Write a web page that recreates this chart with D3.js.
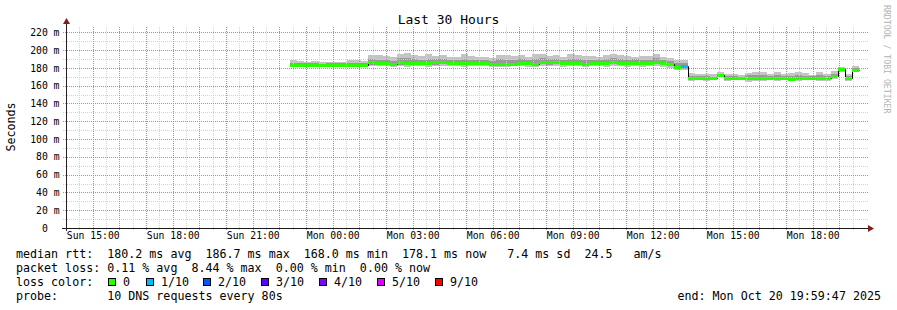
<!DOCTYPE html>
<html>
<head>
<meta charset="utf-8">
<script src="https://cdn.jsdelivr.net/npm/d3@7"></script>
<style>
  body { margin: 0; background: #fff; }
  svg { display: block; font-family: "DejaVu Sans Mono", monospace; }
  .legend text { white-space: pre; }
</style>
</head>
<body>
<div id="container"></div>
<script>
let w = 897;
let h = 310;

// ---- data (ms), one value per 16 minute rrd step ----
let dataStart = new Date(2025, 9, 19, 22, 24, 0);
let stepMin = 16;

let median = [
  183.2,183.6,183.4,183.5,183.0,183.3,183.1,183.4,183.0,183.0,182.9,
  186.3,185.2,185.3,184.0,186.3,185.0,185.4,185.1,185.3,
  186.2,186.2,186.0,186.0,186.0,185.5,185.6,185.4,184.6,184.4,
  184.4,184.6,186.0,185.8,184.2,186.3,186.2,186.6,186.0,185.4,
  185.9,184.4,185.5,185.0,185.2,186.4,185.3,185.2,186.0,185.2,
  185.6,186.3,185.2,184.2,180.8,182.1,
  168.4,168.6,168.4,168.5,172.2,
  168.3,168.2,168.4,168.1,168.3,168.5,168.2,168.4,168.3,168.0,168.2,168.4,168.3,168.1,168.2,
  171.3,178.3,168.8,178.1
];
// outer smoke (fastest / slowest ping)
let smokeHi = [
  189.0,187.5,187.0,188.0,186.8,187.2,187.0,186.6,188.5,188.4,188.0,
  194.5,194.5,193.4,192.6,195.6,196.4,194.5,193.4,195.3,
  193.8,194.1,192.6,191.9,195.6,193.4,192.6,191.9,190.8,194.5,
  194.5,193.4,194.5,192.6,195.6,195.6,193.4,194.5,192.6,195.6,
  194.5,193.4,193.4,191.9,194.5,195.6,194.5,193.4,192.6,193.4,
  193.4,195.6,192.6,190.8,188.9,188.9,
  173.9,172.8,173.2,172.6,175.4,
  173.2,173.2,172.0,174.6,175.4,175.4,173.2,175.4,173.2,174.6,175.4,173.9,172.0,175.4,173.2,
  176.9,180.7,173.2,182.1
];
let smokeLo = [
  180.8,181.2,181.0,181.4,181.0,181.2,181.0,181.3,180.9,180.8,181.0,
  181.6,181.9,182.1,181.2,181.8,181.4,182.0,181.7,181.5,
  181.9,182.2,181.6,182.0,181.4,181.8,182.1,181.6,181.0,181.3,
  181.5,181.8,182.0,181.2,180.8,182.2,181.6,181.9,181.4,181.7,
  182.0,181.1,181.6,181.8,181.4,182.1,181.7,181.5,181.9,181.3,
  181.8,182.0,181.4,180.2,177.4,178.2,
  165.8,166.0,165.6,165.9,169.8,
  165.6,165.9,166.2,164.5,165.8,165.6,166.0,165.4,165.9,165.2,165.7,165.9,166.0,165.6,165.8,
  167.4,175.4,165.0,176.1
];
// inner smoke (middle pings)
let innerHi = [
  185.8,185.4,185.2,185.6,184.9,185.2,185.0,185.0,185.8,185.6,185.4,
  190.2,189.4,189.0,187.8,190.6,191.0,189.6,189.2,190.0,
  189.8,190.1,189.0,188.6,190.4,189.4,189.2,188.8,188.0,189.6,
  189.4,189.0,190.0,189.2,190.2,190.8,189.6,190.4,189.4,190.2,
  190.0,188.8,189.4,188.6,189.6,190.6,189.8,189.0,189.6,189.0,
  189.4,190.6,189.0,187.6,185.0,185.6,
  170.6,170.4,170.8,170.2,173.6,
  170.4,170.6,170.2,171.8,171.6,172.2,170.8,171.6,170.6,171.4,172.0,171.2,170.4,171.6,170.6,
  173.6,179.8,171.0,179.6
];
let innerLo = [
  182.2,182.4,182.3,182.5,182.0,182.3,182.1,182.4,182.0,181.9,182.0,
  183.6,183.4,183.6,182.6,183.8,183.0,183.4,183.2,183.4,
  183.8,183.9,183.6,183.7,183.4,183.5,183.6,183.3,182.8,182.6,
  182.8,183.0,183.9,183.6,182.4,184.0,183.8,184.1,183.6,183.3,
  183.7,182.6,183.4,183.2,183.1,184.0,183.3,183.2,183.8,183.1,
  183.5,184.0,183.2,182.4,178.8,180.0,
  167.2,167.4,167.2,167.3,170.8,
  167.1,167.0,167.4,166.6,167.1,167.3,167.0,167.0,167.1,166.8,167.0,167.2,167.1,166.9,167.0,
  169.8,177.0,167.4,177.2
];
// lost pings out of 10
let loss = [
  0,0,0,0,0,0,0,0,0,0,0,
  0,0,0,0,0,0,0,0,0,
  0,0,0,0,0,0,0,0,0,0,
  0,0,0,0,0,0,0,0,0,0,
  0,0,0,0,0,0,0,0,0,0,
  0,0,0,0,0,1,
  0,0,0,0,0,
  0,0,0,0,0,0,0,0,0,0,0,0,0,0,0,
  0,0,0,0
];

let lossSteps = [0, 1, 2, 3, 4, 5, 9];
let lossLabels = ["0", "1/10", "2/10", "3/10", "4/10", "5/10", "9/10"];
let lossColors = ["#26ff00", "#00b8ff", "#0059ff", "#5e00ff", "#7e00ff", "#dd00ff", "#ff0000"];

let yTicks = [0, 20, 40, 60, 80, 100, 120, 140, 160, 180, 200, 220];
let statLines = [
  "median rtt:  180.2 ms avg  186.7 ms max  168.0 ms min  178.1 ms now   7.4 ms sd  24.5   am/s",
  "packet loss: 0.11 % avg  8.44 % max  0.00 % min  0.00 % now"
];
let probeText = "probe:       10 DNS requests every 80s";
let endText = "end: Mon Oct 20 19:59:47 2025";

// ---- layout ----
let plotL = 66, plotR = 866, plotT = 27, plotB = 228;
let tStart = new Date(2025, 9, 19, 13, 59, 47);
let tEnd = new Date(2025, 9, 20, 19, 59, 47);

let svg = d3.select("#container").append("svg")
  .attr("width", w)
  .attr("height", h)
  .style("background-color", "#fff");

let xScale = d3.scaleTime().domain([tStart, tEnd]).range([plotL, plotR]);
let yScale = d3.scaleLinear().domain([0, 226]).range([plotB, plotT]);

// title and labels
svg.append("text")
  .attr("x", w / 2).attr("y", 24)
  .attr("text-anchor", "middle")
  .style("font-size", "13px")
  .text("Last 30 Hours");

svg.append("text")
  .attr("transform", "translate(15,127) rotate(-90)")
  .attr("text-anchor", "middle")
  .style("font-size", "11.66px")
  .text("Seconds");

svg.append("text")
  .attr("transform", "translate(884,5) rotate(90)")
  .style("font-size", "8.2px")
  .attr("fill", "#b4b4b4")
  .text("RRDTOOL / TOBI OETIKER");

// ---- smoke + median ----
let times = median.map((d, i) => d3.timeMinute.offset(dataStart, i * stepMin));
let graph = svg.append("g").attr("class", "graph").attr("shape-rendering", "crispEdges");

function bands(hi, lo, color) {
  graph.selectAll(null).data(times).enter().append("rect")
    .attr("x", d => Math.round(xScale(d)))
    .attr("width", d => Math.round(xScale(d3.timeMinute.offset(d, stepMin))) - Math.round(xScale(d)))
    .attr("y", (d, i) => Math.round(yScale(hi[i])))
    .attr("height", (d, i) => Math.round(yScale(lo[i])) - Math.round(yScale(hi[i])))
    .attr("fill", color);
}
bands(smokeHi, smokeLo, "#c4c4c4");
bands(innerHi, innerLo, "#999999");

let linePts = times.map((t, i) => [t, median[i]]);
linePts.push([d3.timeMinute.offset(times[times.length - 1], stepMin), median[median.length - 1]]);
svg.append("path")
  .attr("d", d3.line().curve(d3.curveStepAfter)
    .x(d => Math.round(xScale(d[0])) + 0.5)
    .y(d => Math.round(yScale(d[1])) + 0.5)(linePts))
  .attr("fill", "none")
  .attr("stroke", "#000")
  .attr("stroke-width", 1);

function lossColor(n) {
  let c = lossColors[0];
  lossSteps.forEach((s, k) => { if (n >= s) c = lossColors[k]; });
  return c;
}
svg.append("g").attr("shape-rendering", "crispEdges")
  .selectAll("rect").data(times).enter().append("rect")
    .attr("x", d => Math.round(xScale(d)))
    .attr("width", d => Math.round(xScale(d3.timeMinute.offset(d, stepMin))) - Math.round(xScale(d)))
    .attr("y", (d, i) => Math.round(yScale(median[i])) - 1)
    .attr("height", 3)
    .attr("fill", (d, i) => lossColor(loss[i]));

// ---- grid (drawn over the graph like rrdtool) ----
let hours = xScale.ticks(d3.timeHour.every(1));
let halves = xScale.ticks(d3.timeMinute.every(30)).filter(d => d.getMinutes() == 30);
let minorY = d3.range(10, 226, 20);
let majorY = yTicks.filter(d => d > 0);

// dotted lines as 1px squares every other pixel
function vDots(g, data, color) {
  data.forEach(d => {
    let x = Math.round(xScale(d));
    g.append("path")
      .attr("d", d3.range(plotT, plotB + 3, 2).map(y => "M" + x + "," + y + "h1v1h-1z").join(""))
      .attr("fill", color);
  });
}
function hDots(g, data, color) {
  data.forEach(d => {
    let y = Math.round(yScale(d));
    g.append("path")
      .attr("d", d3.range(plotL - 3, plotR + 2, 2).map(x => "M" + x + "," + y + "h1v1h-1z").join(""))
      .attr("fill", color);
  });
}
let minorGrid = svg.append("g").attr("class", "minorgrid").attr("shape-rendering", "crispEdges");
vDots(minorGrid, halves, "#d2d2d2");
hDots(minorGrid, minorY, "#d2d2d2");
let majorGrid = svg.append("g").attr("class", "majorgrid").attr("shape-rendering", "crispEdges");
vDots(majorGrid, hours, "#f47474");
hDots(majorGrid, majorY, "#f47474");

// ---- axes ----
let yAxis = d3.axisLeft(yScale)
  .tickValues(yTicks)
  .tickSize(0)
  .tickPadding(6.5)
  .tickFormat(d => d == 0 ? "0\u00a0\u00a0" : d + " m");
let yAxisGroup = svg.append("g").attr("transform", "translate(" + plotL + ",0)").call(yAxis);
yAxisGroup.select(".domain").remove();
yAxisGroup.selectAll("text")
  .style("font-family", "'DejaVu Sans Mono', monospace")
  .style("font-size", "9.75px")
  .attr("fill", "#000");

let labelTimes = hours.filter(d => d.getHours() % 3 == 0);
let xAxis = d3.axisBottom(xScale)
  .tickValues(labelTimes)
  .tickSize(0)
  .tickPadding(4.5)
  .tickFormat(d3.timeFormat("%a %H:%M"));
let xAxisGroup = svg.append("g").attr("transform", "translate(0," + plotB + ")").call(xAxis);
xAxisGroup.select(".domain").remove();
xAxisGroup.selectAll("text")
  .style("font-family", "'DejaVu Sans Mono', monospace")
  .style("font-size", "9.75px")
  .attr("fill", "#000");

// axis lines + arrows
svg.append("line")
  .attr("x1", plotL - 4).attr("x2", plotR + 3)
  .attr("y1", plotB + 0.5).attr("y2", plotB + 0.5)
  .attr("stroke", "#1a1a1a").attr("shape-rendering", "crispEdges");
svg.append("line")
  .attr("x1", plotL + 0.5).attr("x2", plotL + 0.5)
  .attr("y1", plotB + 3).attr("y2", plotT - 4)
  .attr("stroke", "#2a2020").attr("shape-rendering", "crispEdges");
svg.append("path")
  .attr("d", "M" + (plotR + 2) + "," + (plotB - 3) + "L" + (plotR + 8) + "," + (plotB + 0.5) + "L" + (plotR + 2) + "," + (plotB + 4) + "Z")
  .attr("fill", "#8b1a1a");
svg.append("path")
  .attr("d", "M" + (plotL - 3) + "," + (plotT - 3) + "L" + (plotL + 0.5) + "," + (plotT - 9) + "L" + (plotL + 4) + "," + (plotT - 3) + "Z")
  .attr("fill", "#8b1a1a");

// ---- legend ----
let legend = svg.append("g").attr("class", "legend")
  .style("font-size", "11.66px");

legend.selectAll(".stat").data(statLines).enter().append("text")
  .attr("x", 16)
  .attr("y", (d, i) => 258 + i * 14)
  .text(d => d);

legend.append("text").attr("x", 16).attr("y", 286).text("loss color:");

let boxX = [108, 146, 203, 261, 319, 377, 435];
let items = legend.selectAll(".item").data(lossLabels).enter().append("g")
  .attr("transform", (d, i) => "translate(" + boxX[i] + ",278)");
items.append("rect")
  .attr("x", 0.5).attr("y", 0.5).attr("width", 7).attr("height", 7)
  .attr("fill", (d, i) => lossColors[i])
  .attr("stroke", "#000")
  .attr("shape-rendering", "crispEdges");
items.append("text")
  .attr("x", 15).attr("y", 8)
  .text(d => d);

legend.append("text").attr("x", 16).attr("y", 300).text(probeText);
legend.append("text").attr("x", 881).attr("y", 300)
  .attr("text-anchor", "end").text(endText);
</script>
</body>
</html>
